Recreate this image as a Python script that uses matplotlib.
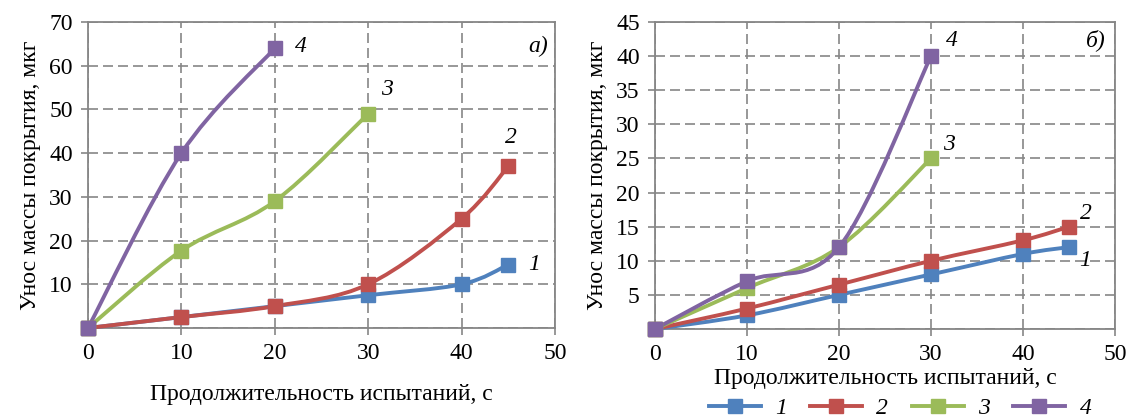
import numpy as np
import matplotlib
matplotlib.use("Agg")
import matplotlib.pyplot as plt
from matplotlib.path import Path
from matplotlib.patches import PathPatch
from matplotlib.lines import Line2D

plt.rcParams['font.family'] = ['Liberation Serif', 'DejaVu Serif']

# ---- data: panel a) ----
a_x1 = [0, 10, 20, 30, 40, 45]
a_y1 = [0, 2.5, 5, 7.5, 10, 14.5]
a_x2 = [0, 10, 20, 30, 40, 45]
a_y2 = [0, 2.5, 5, 10, 25, 37]
a_x3 = [0, 10, 20, 30]
a_y3 = [0, 17.7, 29, 49]
a_x4 = [0, 10, 20]
a_y4 = [0, 40, 64]

# ---- data: panel б) ----
b_x1 = [0, 10, 20, 30, 40, 45]
b_y1 = [0, 2, 5, 8, 11, 12]
b_x2 = [0, 10, 20, 30, 40, 45]
b_y2 = [0, 3, 6.5, 10, 13, 15]
b_x3 = [0, 10, 20, 30]
b_y3 = [0, 6, 12, 25]
b_x4 = [0, 10, 20, 30]
b_y4 = [0, 7, 12, 40]

series_labels = ['1', '2', '3', '4']
colors = ['#4F81BD', '#C0504D', '#9BBB59', '#8064A2']

x_label = 'Продолжительность испытаний, с'
y_label = 'Унос массы покрытия, мкг'

FS = 17
LW = 2.8
MS = 9.5


def smooth_path(ax, xs, ys, color):
    """Excel-like smoothed line via cubic Bezier segments through data points."""
    pts = np.column_stack([xs, ys]).astype(float)
    n = len(pts)
    verts = [pts[0]]
    codes = [Path.MOVETO]
    for i in range(n - 1):
        p0 = pts[i - 1] if i > 0 else pts[i]
        p1 = pts[i]
        p2 = pts[i + 1]
        p3 = pts[i + 2] if i + 2 < n else pts[i + 1]
        c1 = p1 + (p2 - p0) / 6.0
        c2 = p2 - (p3 - p1) / 6.0
        verts += [c1, c2, p2]
        codes += [Path.CURVE4] * 3
    patch = PathPatch(Path(verts, codes), facecolor='none', edgecolor=color,
                      lw=LW, capstyle='round', joinstyle='round', zorder=3,
                      clip_on=False)
    ax.add_patch(patch)
    ax.plot(xs, ys, linestyle='none', marker='s', markersize=MS, color=color,
            zorder=4, clip_on=False)


def style_axes(ax, ymax, ystep):
    ax.set_xlim(0, 50)
    ax.set_ylim(0, ymax)
    ax.set_xticks(np.arange(0, 51, 10))
    yt = np.arange(ystep, ymax + 0.1, ystep)
    ax.set_yticks(np.concatenate([[0], yt]))
    ax.set_yticklabels([''] + [f'{int(v)}' for v in yt])
    ax.grid(True, color='#868686', linestyle=(0, (6, 3)), linewidth=1.2)
    ax.set_axisbelow(True)
    for s in ax.spines.values():
        s.set_color('#868686')
        s.set_linewidth(1.3)
    ax.tick_params(axis='both', direction='out', length=5, width=1.2,
                   color='#868686', labelsize=FS, pad=6)


fig = plt.figure(figsize=(11.3, 4.2), dpi=100)

# ---- left panel ----
ax1 = fig.add_axes([88 / 1130, 1 - 328 / 420, 467 / 1130, 306 / 420])
style_axes(ax1, 70, 10)
for xs, ys, c in zip([a_x1, a_x2, a_x3, a_x4], [a_y1, a_y2, a_y3, a_y4], colors):
    smooth_path(ax1, xs, ys, c)
ax1.set_xlabel(x_label, fontsize=FS, labelpad=14)
ax1.set_ylabel(y_label, fontsize=FS, labelpad=6)
for txt, xx, yy in [('4', 22.8, 64.5), ('3', 32.0, 54.5), ('2', 45.3, 43.5),
                    ('1', 47.8, 14.5)]:
    ax1.text(xx, yy, txt, fontsize=FS, style='italic', ha='center', va='center')
ax1.text(49.3, 64.5, 'а)', fontsize=FS, style='italic', ha='right', va='center')

# ---- right panel ----
ax2 = fig.add_axes([655 / 1130, 1 - 329 / 420, 460 / 1130, 307 / 420])
style_axes(ax2, 45, 5)
for xs, ys, c in zip([b_x1, b_x2, b_x3, b_x4], [b_y1, b_y2, b_y3, b_y4], colors):
    smooth_path(ax2, xs, ys, c)
ax2.set_xlabel(x_label, fontsize=FS, labelpad=2)
ax2.set_ylabel(y_label, fontsize=FS, labelpad=6)
for txt, xx, yy in [('4', 32.3, 42.3), ('3', 32.0, 27.0), ('2', 46.8, 17.0),
                    ('1', 46.8, 10.0)]:
    ax2.text(xx, yy, txt, fontsize=FS, style='italic', ha='center', va='center')
ax2.text(49.0, 42.3, 'б)', fontsize=FS, style='italic', ha='right', va='center')

handles = [Line2D([0], [0], color=c, lw=LW, marker='s', markersize=MS)
           for c in colors]
leg = fig.legend(handles, series_labels, loc='center', ncol=4,
                 bbox_to_anchor=(900 / 1130, 1 - 408 / 420), frameon=False,
                 prop={'size': FS, 'style': 'italic'}, handlelength=2.2,
                 columnspacing=1.0, handletextpad=0.6, borderpad=0)

fig.savefig('out.png', dpi=100)
